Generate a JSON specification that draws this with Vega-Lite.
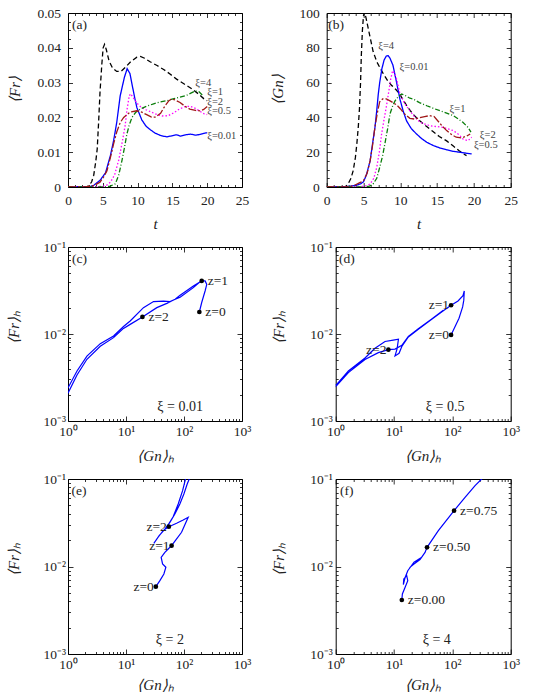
{
"$schema": "https://vega.github.io/schema/vega-lite/v6.json",
"background": "white",
"padding": {"left": 5, "top": 5, "right": 5, "bottom": 5},
"spacing": 7,
"datasets": {
"a": [
{"t":0,"v":0,"s":"4"},{"t":2.5,"v":0,"s":"4"},{"t":3.0,"v":0.0003,"s":"4"},{"t":3.4,"v":0.0015,"s":"4"},{"t":3.7,"v":0.0034,"s":"4"},{"t":4.0,"v":0.0075,"s":"4"},{"t":4.2,"v":0.011,"s":"4"},{"t":4.4,"v":0.0187,"s":"4"},{"t":4.6,"v":0.0273,"s":"4"},{"t":4.85,"v":0.035,"s":"4"},{"t":5.05,"v":0.04,"s":"4"},{"t":5.25,"v":0.041,"s":"4"},{"t":5.5,"v":0.0395,"s":"4"},{"t":5.9,"v":0.0362,"s":"4"},{"t":6.4,"v":0.0342,"s":"4"},{"t":7.0,"v":0.0332,"s":"4"},{"t":7.6,"v":0.0332,"s":"4"},{"t":8.3,"v":0.0345,"s":"4"},{"t":9.0,"v":0.036,"s":"4"},{"t":9.9,"v":0.0373,"s":"4"},{"t":10.4,"v":0.0375,"s":"4"},{"t":11.0,"v":0.037,"s":"4"},{"t":11.8,"v":0.036,"s":"4"},{"t":12.8,"v":0.0349,"s":"4"},{"t":13.8,"v":0.0337,"s":"4"},{"t":14.7,"v":0.0324,"s":"4"},{"t":15.6,"v":0.031,"s":"4"},{"t":16.7,"v":0.0296,"s":"4"},{"t":17.8,"v":0.0282,"s":"4"},{"t":18.7,"v":0.0268,"s":"4"},{"t":19.5,"v":0.0254,"s":"4"},{"t":20,"v":0.0248,"s":"4"},
{"t":0,"v":0,"s":"0.01"},{"t":3,"v":0,"s":"0.01"},{"t":3.7,"v":0.0005,"s":"0.01"},{"t":4.6,"v":0.0019,"s":"0.01"},{"t":5.4,"v":0.0041,"s":"0.01"},{"t":6.1,"v":0.0091,"s":"0.01"},{"t":6.55,"v":0.0133,"s":"0.01"},{"t":7.0,"v":0.0185,"s":"0.01"},{"t":7.5,"v":0.0262,"s":"0.01"},{"t":8.1,"v":0.0315,"s":"0.01"},{"t":8.5,"v":0.034,"s":"0.01"},{"t":8.9,"v":0.0326,"s":"0.01"},{"t":9.2,"v":0.0295,"s":"0.01"},{"t":9.6,"v":0.0255,"s":"0.01"},{"t":9.9,"v":0.0228,"s":"0.01"},{"t":10.6,"v":0.0193,"s":"0.01"},{"t":11.2,"v":0.0175,"s":"0.01"},{"t":11.8,"v":0.0165,"s":"0.01"},{"t":12.5,"v":0.0155,"s":"0.01"},{"t":13.3,"v":0.0148,"s":"0.01"},{"t":14.2,"v":0.0144,"s":"0.01"},{"t":14.9,"v":0.0147,"s":"0.01"},{"t":15.6,"v":0.015,"s":"0.01"},{"t":16.2,"v":0.0146,"s":"0.01"},{"t":16.9,"v":0.015,"s":"0.01"},{"t":17.6,"v":0.0152,"s":"0.01"},{"t":18.3,"v":0.0149,"s":"0.01"},{"t":19.0,"v":0.0151,"s":"0.01"},{"t":19.5,"v":0.0154,"s":"0.01"},{"t":20,"v":0.0156,"s":"0.01"},
{"t":0,"v":0,"s":"0.5"},{"t":4,"v":0,"s":"0.5"},{"t":5.5,"v":0.0004,"s":"0.5"},{"t":6.1,"v":0.0014,"s":"0.5"},{"t":6.7,"v":0.0035,"s":"0.5"},{"t":7.3,"v":0.0078,"s":"0.5"},{"t":7.8,"v":0.013,"s":"0.5"},{"t":8.2,"v":0.0175,"s":"0.5"},{"t":8.5,"v":0.0225,"s":"0.5"},{"t":8.8,"v":0.0262,"s":"0.5"},{"t":9.0,"v":0.0268,"s":"0.5"},{"t":9.4,"v":0.0256,"s":"0.5"},{"t":9.9,"v":0.0241,"s":"0.5"},{"t":10.5,"v":0.0229,"s":"0.5"},{"t":11.2,"v":0.0222,"s":"0.5"},{"t":12.0,"v":0.0215,"s":"0.5"},{"t":12.8,"v":0.0208,"s":"0.5"},{"t":13.5,"v":0.0204,"s":"0.5"},{"t":14.4,"v":0.0205,"s":"0.5"},{"t":15.2,"v":0.0213,"s":"0.5"},{"t":16.0,"v":0.0224,"s":"0.5"},{"t":16.8,"v":0.0231,"s":"0.5"},{"t":17.5,"v":0.0232,"s":"0.5"},{"t":18.3,"v":0.0226,"s":"0.5"},{"t":19.0,"v":0.0217,"s":"0.5"},{"t":19.5,"v":0.0211,"s":"0.5"},{"t":20,"v":0.0208,"s":"0.5"},
{"t":0,"v":0,"s":"1"},{"t":5,"v":0,"s":"1"},{"t":6.0,"v":0.0002,"s":"1"},{"t":6.8,"v":0.0009,"s":"1"},{"t":7.3,"v":0.0035,"s":"1"},{"t":7.75,"v":0.0076,"s":"1"},{"t":8.1,"v":0.0112,"s":"1"},{"t":8.46,"v":0.0152,"s":"1"},{"t":8.8,"v":0.0178,"s":"1"},{"t":9.2,"v":0.02,"s":"1"},{"t":9.7,"v":0.0214,"s":"1"},{"t":10.4,"v":0.0224,"s":"1"},{"t":11.3,"v":0.0232,"s":"1"},{"t":12.3,"v":0.0239,"s":"1"},{"t":13.2,"v":0.0244,"s":"1"},{"t":14.2,"v":0.0248,"s":"1"},{"t":15.1,"v":0.0253,"s":"1"},{"t":16.1,"v":0.0258,"s":"1"},{"t":17.0,"v":0.0263,"s":"1"},{"t":17.8,"v":0.0271,"s":"1"},{"t":18.3,"v":0.0276,"s":"1"},{"t":18.8,"v":0.0274,"s":"1"},{"t":19.3,"v":0.0264,"s":"1"},
{"t":0,"v":0,"s":"2"},{"t":2.5,"v":0,"s":"2"},{"t":3.7,"v":0.0004,"s":"2"},{"t":4.6,"v":0.0014,"s":"2"},{"t":5.1,"v":0.0028,"s":"2"},{"t":5.6,"v":0.0047,"s":"2"},{"t":6.1,"v":0.0085,"s":"2"},{"t":6.55,"v":0.0124,"s":"2"},{"t":7.0,"v":0.0158,"s":"2"},{"t":7.5,"v":0.0185,"s":"2"},{"t":8.0,"v":0.02,"s":"2"},{"t":8.9,"v":0.0215,"s":"2"},{"t":9.9,"v":0.0219,"s":"2"},{"t":10.6,"v":0.0215,"s":"2"},{"t":11.3,"v":0.0208,"s":"2"},{"t":12.0,"v":0.0201,"s":"2"},{"t":12.6,"v":0.0201,"s":"2"},{"t":13.3,"v":0.0212,"s":"2"},{"t":13.9,"v":0.0232,"s":"2"},{"t":14.5,"v":0.0248,"s":"2"},{"t":14.9,"v":0.0253,"s":"2"},{"t":15.4,"v":0.025,"s":"2"},{"t":16.1,"v":0.0243,"s":"2"},{"t":16.8,"v":0.0232,"s":"2"},{"t":17.5,"v":0.0224,"s":"2"},{"t":18.3,"v":0.022,"s":"2"},{"t":19.0,"v":0.0219,"s":"2"},{"t":19.5,"v":0.0223,"s":"2"},{"t":20,"v":0.0231,"s":"2"}
],
"aLab": [{"t":18.3,"v":0.0299,"lab":"ξ=4"},{"t":20.0,"v":0.0274,"lab":"ξ=1"},{"t":20.0,"v":0.0243,"lab":"ξ=2"},{"t":20.0,"v":0.0217,"lab":"ξ=0.5"},{"t":20.0,"v":0.0147,"lab":"ξ=0.01"}],
"b": [
{"t":0,"v":0,"s":"4"},{"t":2.5,"v":0,"s":"4"},{"t":2.9,"v":1.7,"s":"4"},{"t":3.3,"v":5,"s":"4"},{"t":3.6,"v":9.4,"s":"4"},{"t":3.9,"v":17,"s":"4"},{"t":4.1,"v":25,"s":"4"},{"t":4.3,"v":35,"s":"4"},{"t":4.45,"v":45,"s":"4"},{"t":4.6,"v":60,"s":"4"},{"t":4.7,"v":75,"s":"4"},{"t":4.85,"v":90,"s":"4"},{"t":5.0,"v":98.5,"s":"4"},{"t":5.15,"v":100.5,"s":"4"},{"t":5.35,"v":97,"s":"4"},{"t":5.6,"v":92,"s":"4"},{"t":5.9,"v":86,"s":"4"},{"t":6.3,"v":78,"s":"4"},{"t":6.8,"v":72,"s":"4"},{"t":7.3,"v":68,"s":"4"},{"t":7.7,"v":65,"s":"4"},{"t":8.3,"v":61,"s":"4"},{"t":8.8,"v":58.5,"s":"4"},{"t":9.4,"v":56,"s":"4"},{"t":9.9,"v":53.5,"s":"4"},{"t":10.4,"v":50,"s":"4"},{"t":10.9,"v":46.5,"s":"4"},{"t":11.7,"v":42,"s":"4"},{"t":12.5,"v":38.5,"s":"4"},{"t":13.5,"v":35,"s":"4"},{"t":14.4,"v":32,"s":"4"},{"t":15.3,"v":29,"s":"4"},{"t":16.3,"v":26.5,"s":"4"},{"t":17.2,"v":23.5,"s":"4"},{"t":18.0,"v":20.8,"s":"4"},{"t":18.6,"v":19,"s":"4"},{"t":19.0,"v":18,"s":"4"},
{"t":0,"v":0,"s":"0.01"},{"t":3,"v":0.3,"s":"0.01"},{"t":4,"v":1,"s":"0.01"},{"t":4.6,"v":1.8,"s":"0.01"},{"t":5.0,"v":3,"s":"0.01"},{"t":5.4,"v":7,"s":"0.01"},{"t":5.9,"v":15,"s":"0.01"},{"t":6.2,"v":24,"s":"0.01"},{"t":6.55,"v":34,"s":"0.01"},{"t":6.8,"v":44,"s":"0.01"},{"t":7.0,"v":53,"s":"0.01"},{"t":7.2,"v":60,"s":"0.01"},{"t":7.5,"v":68,"s":"0.01"},{"t":7.8,"v":73,"s":"0.01"},{"t":8.1,"v":75.3,"s":"0.01"},{"t":8.36,"v":75.5,"s":"0.01"},{"t":8.6,"v":74,"s":"0.01"},{"t":9.0,"v":70,"s":"0.01"},{"t":9.25,"v":65,"s":"0.01"},{"t":9.5,"v":60,"s":"0.01"},{"t":9.95,"v":50.5,"s":"0.01"},{"t":10.4,"v":43.5,"s":"0.01"},{"t":10.85,"v":38,"s":"0.01"},{"t":11.5,"v":33.5,"s":"0.01"},{"t":12.2,"v":30.5,"s":"0.01"},{"t":12.9,"v":27.8,"s":"0.01"},{"t":13.6,"v":25.7,"s":"0.01"},{"t":14.5,"v":23.8,"s":"0.01"},{"t":15.4,"v":22.4,"s":"0.01"},{"t":16.3,"v":21.4,"s":"0.01"},{"t":17.2,"v":20.5,"s":"0.01"},{"t":18.5,"v":19.7,"s":"0.01"},{"t":19.7,"v":19,"s":"0.01"},
{"t":0,"v":0,"s":"0.5"},{"t":4,"v":0,"s":"0.5"},{"t":5.2,"v":0.5,"s":"0.5"},{"t":5.9,"v":1.7,"s":"0.5"},{"t":6.4,"v":5,"s":"0.5"},{"t":6.8,"v":11.3,"s":"0.5"},{"t":7.15,"v":20,"s":"0.5"},{"t":7.46,"v":30.5,"s":"0.5"},{"t":7.8,"v":39,"s":"0.5"},{"t":8.1,"v":46,"s":"0.5"},{"t":8.4,"v":54,"s":"0.5"},{"t":8.7,"v":62,"s":"0.5"},{"t":8.95,"v":66.8,"s":"0.5"},{"t":9.2,"v":65.5,"s":"0.5"},{"t":9.5,"v":62,"s":"0.5"},{"t":9.95,"v":53.5,"s":"0.5"},{"t":10.6,"v":48,"s":"0.5"},{"t":11.3,"v":43.8,"s":"0.5"},{"t":12.0,"v":40,"s":"0.5"},{"t":12.7,"v":37.2,"s":"0.5"},{"t":14.0,"v":35.2,"s":"0.5"},{"t":15.8,"v":34.3,"s":"0.5"},{"t":17.2,"v":32.4,"s":"0.5"},{"t":18.0,"v":30,"s":"0.5"},{"t":18.5,"v":27.6,"s":"0.5"},{"t":19.2,"v":26.6,"s":"0.5"},{"t":19.7,"v":28.6,"s":"0.5"},
{"t":0,"v":0,"s":"1"},{"t":5,"v":0,"s":"1"},{"t":5.8,"v":0.5,"s":"1"},{"t":6.3,"v":1.7,"s":"1"},{"t":6.8,"v":5,"s":"1"},{"t":7.2,"v":11.3,"s":"1"},{"t":7.6,"v":18,"s":"1"},{"t":7.9,"v":24.7,"s":"1"},{"t":8.3,"v":34,"s":"1"},{"t":8.6,"v":42,"s":"1"},{"t":9.0,"v":47,"s":"1"},{"t":9.3,"v":49.6,"s":"1"},{"t":9.8,"v":52.3,"s":"1"},{"t":10.2,"v":53.4,"s":"1"},{"t":10.7,"v":52.5,"s":"1"},{"t":11.3,"v":51,"s":"1"},{"t":11.75,"v":50.6,"s":"1"},{"t":12.6,"v":48.5,"s":"1"},{"t":13.6,"v":46.7,"s":"1"},{"t":14.5,"v":45.2,"s":"1"},{"t":15.4,"v":43.8,"s":"1"},{"t":16.3,"v":42.5,"s":"1"},{"t":17.2,"v":41,"s":"1"},{"t":17.9,"v":39,"s":"1"},{"t":18.5,"v":37.2,"s":"1"},{"t":19.2,"v":34.3,"s":"1"},{"t":19.6,"v":31.5,"s":"1"},
{"t":0,"v":0,"s":"2"},{"t":3,"v":0,"s":"2"},{"t":3.8,"v":1,"s":"2"},{"t":4.5,"v":2.5,"s":"2"},{"t":5.0,"v":3.6,"s":"2"},{"t":5.5,"v":8,"s":"2"},{"t":5.9,"v":15.1,"s":"2"},{"t":6.2,"v":23,"s":"2"},{"t":6.55,"v":34.3,"s":"2"},{"t":6.9,"v":43,"s":"2"},{"t":7.2,"v":49,"s":"2"},{"t":7.6,"v":50.6,"s":"2"},{"t":8.1,"v":50.6,"s":"2"},{"t":8.6,"v":49.5,"s":"2"},{"t":9.0,"v":48.5,"s":"2"},{"t":9.5,"v":47.2,"s":"2"},{"t":10.0,"v":45,"s":"2"},{"t":10.6,"v":42,"s":"2"},{"t":11.3,"v":39.5,"s":"2"},{"t":12.0,"v":39,"s":"2"},{"t":12.6,"v":39.8,"s":"2"},{"t":13.3,"v":40.5,"s":"2"},{"t":14.0,"v":41,"s":"2"},{"t":14.6,"v":40.5,"s":"2"},{"t":15.2,"v":37.5,"s":"2"},{"t":15.7,"v":35,"s":"2"},{"t":16.3,"v":32.4,"s":"2"},{"t":17.0,"v":30,"s":"2"},{"t":17.6,"v":28.6,"s":"2"},{"t":18.3,"v":28.2,"s":"2"},{"t":19.0,"v":29.2,"s":"2"},{"t":19.5,"v":30.5,"s":"2"}
],
"bLab": [{"t":7.0,"v":81.2,"lab":"ξ=4"},{"t":9.9,"v":69,"lab":"ξ=0.01"},{"t":16.7,"v":44.8,"lab":"ξ=1"},{"t":20.8,"v":29.6,"lab":"ξ=2"},{"t":20.0,"v":24.0,"lab":"ξ=0.5"}],
"c": [{"x":184,"y":0.0179},{"x":202,"y":0.023},{"x":231,"y":0.0312},{"x":247,"y":0.0372},{"x":231,"y":0.0407},{"x":202,"y":0.0407},{"x":145,"y":0.0356},{"x":85.7,"y":0.0279},{"x":70.3,"y":0.0251},{"x":57.6,"y":0.0236},{"x":44.3,"y":0.0239},{"x":29.8,"y":0.0236},{"x":20,"y":0.0201},{"x":11.8,"y":0.0141},{"x":9.06,"y":0.0122},{"x":6.1,"y":0.0095},{"x":3.6,"y":0.00774},{"x":2.12,"y":0.00558},{"x":1.43,"y":0.00376},{"x":1.02,"y":0.00246},{"x":0.9,"y":0.00222},{"x":0.9,"y":0.0019},{"x":1.02,"y":0.00215},{"x":1.43,"y":0.00338},{"x":2.12,"y":0.00512},{"x":3.6,"y":0.00723},{"x":6.1,"y":0.00908},{"x":9.06,"y":0.0116},{"x":11.8,"y":0.0129},{"x":19.2,"y":0.0157},{"x":34,"y":0.0201},{"x":50.6,"y":0.0225},{"x":65.8,"y":0.0246},{"x":85.7,"y":0.0265},{"x":145,"y":0.0341},{"x":185,"y":0.0392}],
"cPts": [{"x":184,"y":0.0179,"lab":"z=0"},{"x":202,"y":0.0407,"lab":"z=1"},{"x":19.2,"y":0.0157,"lab":"z=2"}],
"d": [{"x":95,"y":0.00975},{"x":130,"y":0.0152},{"x":150,"y":0.0205},{"x":157,"y":0.0245},{"x":160,"y":0.0312},{"x":152,"y":0.0275},{"x":125,"y":0.024},{"x":95,"y":0.0214},{"x":70,"y":0.0185},{"x":44.3,"y":0.01475},{"x":26.1,"y":0.0113},{"x":17.6,"y":0.00925},{"x":13.6,"y":0.0072},{"x":12.2,"y":0.006},{"x":10.4,"y":0.0056},{"x":11.3,"y":0.0068},{"x":11.9,"y":0.0087},{"x":9.7,"y":0.0085},{"x":7.0,"y":0.0082},{"x":4.72,"y":0.00686},{"x":3.18,"y":0.0053},{"x":1.65,"y":0.00376},{"x":1.04,"y":0.00264},{"x":0.9,"y":0.0026},{"x":0.9,"y":0.0024},{"x":1.04,"y":0.00255},{"x":1.65,"y":0.0036},{"x":3.18,"y":0.0051},{"x":5.38,"y":0.0061},{"x":8.0,"y":0.0066},{"x":10.4,"y":0.0067},{"x":13.6,"y":0.0074},{"x":17.6,"y":0.0094},{"x":26.1,"y":0.0115},{"x":44.3,"y":0.0149},{"x":70,"y":0.0188}],
"dPts": [{"x":95,"y":0.00975,"lab":"z=0"},{"x":95,"y":0.0214,"lab":"z=1"},{"x":8.0,"y":0.0066,"lab":"z=2"}],
"e": [{"x":32.7,"y":0.00588},{"x":38.4,"y":0.00689},{"x":45.0,"y":0.0082},{"x":48.7,"y":0.0098},{"x":42.7,"y":0.0107},{"x":40.4,"y":0.01274},{"x":46.8,"y":0.01452},{"x":53.3,"y":0.01585},{"x":61.1,"y":0.0173},{"x":72.4,"y":0.0201},{"x":90.8,"y":0.0246},{"x":118,"y":0.0365},{"x":96.9,"y":0.034},{"x":74.5,"y":0.0312},{"x":54.8,"y":0.0285},{"x":43.7,"y":0.0257},{"x":35.8,"y":0.0216},{"x":30.2,"y":0.0184},{"x":37.3,"y":0.0225},{"x":46.8,"y":0.0268},{"x":57.1,"y":0.032},{"x":69.6,"y":0.0398},{"x":84.9,"y":0.0518},{"x":99.5,"y":0.0674},{"x":113.6,"y":0.0877},{"x":126.5,"y":0.1045},{"x":123,"y":0.119},{"x":108,"y":0.1045},{"x":94.6,"y":0.0736},{"x":79.4,"y":0.0518},{"x":65,"y":0.037},{"x":53.3,"y":0.03}],
"ePts": [{"x":32.7,"y":0.00588,"lab":"z=0"},{"x":61.1,"y":0.0173,"lab":"z=1"},{"x":54.8,"y":0.0285,"lab":"z=2"}],
"f": [{"x":13.6,"y":0.00414},{"x":13.9,"y":0.00485},{"x":15.5,"y":0.00578},{"x":17.2,"y":0.00689},{"x":16.5,"y":0.00785},{"x":14.7,"y":0.0072},{"x":14.45,"y":0.0062},{"x":15.5,"y":0.0075},{"x":17.2,"y":0.00895},{"x":22,"y":0.0112},{"x":29,"y":0.0126},{"x":22.5,"y":0.0108},{"x":18.5,"y":0.0097},{"x":21.4,"y":0.0105},{"x":27.9,"y":0.012},{"x":34,"y":0.0145},{"x":36.8,"y":0.01656},{"x":57.5,"y":0.0257},{"x":107,"y":0.0435},{"x":165,"y":0.0617},{"x":245,"y":0.0839},{"x":340,"y":0.1045}],
"fPts": [{"x":13.6,"y":0.00414,"lab":"z=0.00"},{"x":36.8,"y":0.01656,"lab":"z=0.50"},{"x":107,"y":0.0435,"lab":"z=0.75"}]
},
"vconcat": [
{"bounds": "flush", "spacing": 84.7, "hconcat": [
{"width": 174, "height": 174, "data": {"name": "a"},
 "resolve": {"axis": {"x": "independent", "y": "independent"}},
 "layer": [
  {"mark": {"type": "line", "clip": true, "strokeWidth": 1.3},
   "encoding": {
    "x": {"field": "t", "type": "quantitative", "scale": {"domain": [0, 25], "nice": false, "zero": false}, "axis": {"orient": "bottom", "values": [0,5,10,15,20,25], "tickSize": -4.5, "labelPadding": 10.5, "title": "t", "titleX": 87, "titleY": 36, "titleBaseline": "middle", "titleAngle": 0}},
    "y": {"field": "v", "type": "quantitative", "scale": {"domain": [0, 0.05], "nice": false}, "axis": {"orient": "left", "values": [0,0.01,0.02,0.03,0.04,0.05], "format": ".2~f", "tickSize": -4.5, "labelPadding": 12, "title": "⟨Fr⟩", "titleX": -54, "titleY": 76, "titleAngle": 270, "titleBaseline": "middle", "titleAlign": "center"}},
    "color": {"field": "s", "type": "nominal", "scale": {"domain": ["4","0.01","0.5","1","2"], "range": ["#000000","#0000ff","#ff00ff","#0a7d0a","#a01818"]}, "legend": null},
    "strokeDash": {"field": "s", "type": "nominal", "scale": {"domain": ["4","0.01","0.5","1","2"], "range": [[5,3],[1,0],[1.5,2],[5,2,1,2],[8,2,2,2]]}, "legend": null},
    "order": {"value": null}}},
  {"mark": {"type": "point", "opacity": 0},
   "encoding": {
    "x": {"field": "t", "type": "quantitative", "scale": {"domain": [0, 25], "nice": false, "zero": false}, "axis": {"orient": "top", "values": [0,5,10,15,20,25], "tickSize": -4.5, "labels": false, "title": null}},
    "y": {"field": "v", "type": "quantitative", "scale": {"domain": [0, 0.05], "nice": false}, "axis": {"orient": "right", "values": [0,0.01,0.02,0.03,0.04,0.05], "tickSize": -4.5, "labels": false, "title": null}}}},
  {"mark": {"type": "point", "opacity": 0},
   "encoding": {
    "x": {"field": "t", "type": "quantitative", "scale": {"domain": [0, 25], "nice": false, "zero": false}, "axis": {"orient": "bottom", "values": [1,2,3,4,6,7,8,9,11,12,13,14,16,17,18,19,21,22,23,24], "tickSize": -2.5, "labels": false, "title": null}},
    "y": {"field": "v", "type": "quantitative", "scale": {"domain": [0, 0.05], "nice": false}, "axis": {"orient": "left", "values": [0.0025,0.005,0.0075,0.0125,0.015,0.0175,0.0225,0.025,0.0275,0.0325,0.035,0.0375,0.0425,0.045,0.0475], "tickSize": -2.5, "labels": false, "title": null}}}},
  {"mark": {"type": "point", "opacity": 0},
   "encoding": {
    "x": {"field": "t", "type": "quantitative", "scale": {"domain": [0, 25], "nice": false, "zero": false}, "axis": {"orient": "top", "values": [1,2,3,4,6,7,8,9,11,12,13,14,16,17,18,19,21,22,23,24], "tickSize": -2.5, "labels": false, "title": null}},
    "y": {"field": "v", "type": "quantitative", "scale": {"domain": [0, 0.05], "nice": false}, "axis": {"orient": "right", "values": [0.0025,0.005,0.0075,0.0125,0.015,0.0175,0.0225,0.025,0.0275,0.0325,0.035,0.0375,0.0425,0.045,0.0475], "tickSize": -2.5, "labels": false, "title": null}}}},
  {"data": {"name": "aLab"}, "mark": {"type": "text", "align": "left", "baseline": "middle", "fontSize": 10.5, "color": "#444"},
   "encoding": {
    "x": {"field": "t", "type": "quantitative", "scale": {"domain": [0, 25], "nice": false, "zero": false}, "axis": null},
    "y": {"field": "v", "type": "quantitative", "scale": {"domain": [0, 0.05], "nice": false}, "axis": null},
    "text": {"field": "lab"}}},
  {"data": {"values": [{"t": 0.57, "v": 0.0466, "lab": "(a)"}]}, "mark": {"type": "text", "align": "left", "baseline": "middle", "fontSize": 13.5, "color": "#222"},
   "encoding": {
    "x": {"field": "t", "type": "quantitative", "scale": {"domain": [0, 25], "nice": false, "zero": false}, "axis": null},
    "y": {"field": "v", "type": "quantitative", "scale": {"domain": [0, 0.05], "nice": false}, "axis": null},
    "text": {"field": "lab"}}}
 ]},
{"width": 184, "height": 174, "data": {"name": "b"},
 "resolve": {"axis": {"x": "independent", "y": "independent"}},
 "layer": [
  {"mark": {"type": "line", "clip": true, "strokeWidth": 1.3},
   "encoding": {
    "x": {"field": "t", "type": "quantitative", "scale": {"domain": [0, 25], "nice": false, "zero": false}, "axis": {"orient": "bottom", "values": [0,5,10,15,20,25], "tickSize": -4.5, "labelPadding": 10.5, "title": "t", "titleX": 92, "titleY": 36, "titleBaseline": "middle", "titleAngle": 0}},
    "y": {"field": "v", "type": "quantitative", "scale": {"domain": [0, 100], "nice": false}, "axis": {"orient": "left", "values": [0,20,40,60,80,100], "tickSize": -4.5, "labelPadding": 12, "title": "⟨Gn⟩", "titleX": -49, "titleY": 76, "titleAngle": 270, "titleBaseline": "middle", "titleAlign": "center"}},
    "color": {"field": "s", "type": "nominal", "scale": {"domain": ["4","0.01","0.5","1","2"], "range": ["#000000","#0000ff","#ff00ff","#0a7d0a","#a01818"]}, "legend": null},
    "strokeDash": {"field": "s", "type": "nominal", "scale": {"domain": ["4","0.01","0.5","1","2"], "range": [[5,3],[1,0],[1.5,2],[5,2,1,2],[8,2,2,2]]}, "legend": null},
    "order": {"value": null}}},
  {"mark": {"type": "point", "opacity": 0},
   "encoding": {
    "x": {"field": "t", "type": "quantitative", "scale": {"domain": [0, 25], "nice": false, "zero": false}, "axis": {"orient": "top", "values": [0,5,10,15,20,25], "tickSize": -4.5, "labels": false, "title": null}},
    "y": {"field": "v", "type": "quantitative", "scale": {"domain": [0, 100], "nice": false}, "axis": {"orient": "right", "values": [0,20,40,60,80,100], "tickSize": -4.5, "labels": false, "title": null}}}},
  {"mark": {"type": "point", "opacity": 0},
   "encoding": {
    "x": {"field": "t", "type": "quantitative", "scale": {"domain": [0, 25], "nice": false, "zero": false}, "axis": {"orient": "bottom", "values": [1,2,3,4,6,7,8,9,11,12,13,14,16,17,18,19,21,22,23,24], "tickSize": -2.5, "labels": false, "title": null}},
    "y": {"field": "v", "type": "quantitative", "scale": {"domain": [0, 100], "nice": false}, "axis": {"orient": "left", "values": [5,10,15,25,30,35,45,50,55,65,70,75,85,90,95], "tickSize": -2.5, "labels": false, "title": null}}}},
  {"mark": {"type": "point", "opacity": 0},
   "encoding": {
    "x": {"field": "t", "type": "quantitative", "scale": {"domain": [0, 25], "nice": false, "zero": false}, "axis": {"orient": "top", "values": [1,2,3,4,6,7,8,9,11,12,13,14,16,17,18,19,21,22,23,24], "tickSize": -2.5, "labels": false, "title": null}},
    "y": {"field": "v", "type": "quantitative", "scale": {"domain": [0, 100], "nice": false}, "axis": {"orient": "right", "values": [5,10,15,25,30,35,45,50,55,65,70,75,85,90,95], "tickSize": -2.5, "labels": false, "title": null}}}},
  {"data": {"name": "bLab"}, "mark": {"type": "text", "align": "left", "baseline": "middle", "fontSize": 10.5, "color": "#444"},
   "encoding": {
    "x": {"field": "t", "type": "quantitative", "scale": {"domain": [0, 25], "nice": false, "zero": false}, "axis": null},
    "y": {"field": "v", "type": "quantitative", "scale": {"domain": [0, 100], "nice": false}, "axis": null},
    "text": {"field": "lab"}}},
  {"data": {"values": [{"t": 0.22, "v": 93.3, "lab": "(b)"}]}, "mark": {"type": "text", "align": "left", "baseline": "middle", "fontSize": 13.5, "color": "#222"},
   "encoding": {
    "x": {"field": "t", "type": "quantitative", "scale": {"domain": [0, 25], "nice": false, "zero": false}, "axis": null},
    "y": {"field": "v", "type": "quantitative", "scale": {"domain": [0, 100], "nice": false}, "axis": null},
    "text": {"field": "lab"}}}
 ]}
]},
{"spacing": 5, "vconcat": [
{"bounds": "flush", "spacing": 93.7, "hconcat": [
{"width": 174, "height": 174, "data": {"name": "c"},
 "resolve": {"axis": {"x": "independent", "y": "independent"}},
 "layer": [
  {"mark": {"type": "line", "clip": true, "color": "#0000ff", "strokeWidth": 1.2},
   "encoding": {
    "x": {"field": "x", "type": "quantitative", "scale": {"type": "log", "domain": [1, 1000], "nice": false}, "axis": {"orient": "bottom", "values": [1,10,100,1000], "tickSize": -5, "labelPadding": 8.5, "labelExpr": "datum.value < 5 ? '10⁰' : datum.value < 50 ? '10¹' : datum.value < 500 ? '10²' : '10³'", "title": "⟨Gn⟩ₕ", "titleX": 87, "titleY": 34, "titleBaseline": "middle", "titleAngle": 0}},
    "y": {"field": "y", "type": "quantitative", "scale": {"type": "log", "domain": [0.001, 0.1], "nice": false}, "axis": {"orient": "left", "values": [0.001,0.01,0.1], "tickSize": -5, "labelPadding": 7.5, "labelExpr": "datum.value < 0.005 ? '10⁻³' : datum.value < 0.05 ? '10⁻²' : '10⁻¹'", "title": "⟨Fr⟩ₕ", "titleX": -55, "titleY": 80, "titleAngle": 270, "titleBaseline": "middle", "titleAlign": "center"}},
    "order": {"value": null}}},
  {"mark": {"type": "point", "opacity": 0},
   "encoding": {
    "x": {"field": "x", "type": "quantitative", "scale": {"type": "log", "domain": [1, 1000], "nice": false}, "axis": {"orient": "top", "values": [1,10,100,1000], "tickSize": -5, "labels": false, "title": null}},
    "y": {"field": "y", "type": "quantitative", "scale": {"type": "log", "domain": [0.001, 0.1], "nice": false}, "axis": {"orient": "right", "values": [0.001,0.01,0.1], "tickSize": -5, "labels": false, "title": null}}}},
  {"mark": {"type": "point", "opacity": 0},
   "encoding": {
    "x": {"field": "x", "type": "quantitative", "scale": {"type": "log", "domain": [1, 1000], "nice": false}, "axis": {"orient": "bottom", "values": [2,3,4,5,6,7,8,9,20,30,40,50,60,70,80,90,200,300,400,500,600,700,800,900], "tickSize": -2.5, "labels": false, "title": null}},
    "y": {"field": "y", "type": "quantitative", "scale": {"type": "log", "domain": [0.001, 0.1], "nice": false}, "axis": {"orient": "left", "values": [0.002,0.003,0.004,0.005,0.006,0.007,0.008,0.009,0.02,0.03,0.04,0.05,0.06,0.07,0.08,0.09], "tickSize": -2.5, "labels": false, "title": null}}}},
  {"mark": {"type": "point", "opacity": 0},
   "encoding": {
    "x": {"field": "x", "type": "quantitative", "scale": {"type": "log", "domain": [1, 1000], "nice": false}, "axis": {"orient": "top", "values": [2,3,4,5,6,7,8,9,20,30,40,50,60,70,80,90,200,300,400,500,600,700,800,900], "tickSize": -2.5, "labels": false, "title": null}},
    "y": {"field": "y", "type": "quantitative", "scale": {"type": "log", "domain": [0.001, 0.1], "nice": false}, "axis": {"orient": "right", "values": [0.002,0.003,0.004,0.005,0.006,0.007,0.008,0.009,0.02,0.03,0.04,0.05,0.06,0.07,0.08,0.09], "tickSize": -2.5, "labels": false, "title": null}}}},
  {"data": {"name": "cPts"}, "mark": {"type": "point", "filled": true, "color": "#000", "size": 22, "opacity": 1},
   "encoding": {
    "x": {"field": "x", "type": "quantitative", "scale": {"type": "log", "domain": [1, 1000], "nice": false}, "axis": null},
    "y": {"field": "y", "type": "quantitative", "scale": {"type": "log", "domain": [0.001, 0.1], "nice": false}, "axis": null}}},
  {"data": {"name": "cPts"}, "mark": {"type": "text", "align": "left", "baseline": "middle", "dx": 6, "fontSize": 13.5, "color": "#222"},
   "encoding": {
    "x": {"field": "x", "type": "quantitative", "scale": {"type": "log", "domain": [1, 1000], "nice": false}, "axis": null},
    "y": {"field": "y", "type": "quantitative", "scale": {"type": "log", "domain": [0.001, 0.1], "nice": false}, "axis": null},
    "text": {"field": "lab"}}},
  {"data": {"values": [{"x": 1.17, "y": 0.0723, "lab": "(c)"}]}, "mark": {"type": "text", "align": "left", "baseline": "middle", "fontSize": 13.5, "color": "#222"},
   "encoding": {
    "x": {"field": "x", "type": "quantitative", "scale": {"type": "log", "domain": [1, 1000], "nice": false}, "axis": null},
    "y": {"field": "y", "type": "quantitative", "scale": {"type": "log", "domain": [0.001, 0.1], "nice": false}, "axis": null},
    "text": {"field": "lab"}}},
  {"data": {"values": [{"x": 85.7, "y": 0.00145, "lab": "ξ = 0.01"}]}, "mark": {"type": "text", "align": "center", "baseline": "middle", "fontSize": 14, "color": "#222"},
   "encoding": {
    "x": {"field": "x", "type": "quantitative", "scale": {"type": "log", "domain": [1, 1000], "nice": false}, "axis": null},
    "y": {"field": "y", "type": "quantitative", "scale": {"type": "log", "domain": [0.001, 0.1], "nice": false}, "axis": null},
    "text": {"field": "lab"}}}
 ]},
{"width": 175, "height": 174, "data": {"name": "d"},
 "resolve": {"axis": {"x": "independent", "y": "independent"}},
 "layer": [
  {"mark": {"type": "line", "clip": true, "color": "#0000ff", "strokeWidth": 1.2},
   "encoding": {
    "x": {"field": "x", "type": "quantitative", "scale": {"type": "log", "domain": [1, 1000], "nice": false}, "axis": {"orient": "bottom", "values": [1,10,100,1000], "tickSize": -5, "labelPadding": 8.5, "labelExpr": "datum.value < 5 ? '10⁰' : datum.value < 50 ? '10¹' : datum.value < 500 ? '10²' : '10³'", "title": "⟨Gn⟩ₕ", "titleX": 87, "titleY": 34, "titleBaseline": "middle", "titleAngle": 0}},
    "y": {"field": "y", "type": "quantitative", "scale": {"type": "log", "domain": [0.001, 0.1], "nice": false}, "axis": {"orient": "left", "values": [0.001,0.01,0.1], "tickSize": -5, "labelPadding": 8.5, "labelExpr": "datum.value < 0.005 ? '10⁻³' : datum.value < 0.05 ? '10⁻²' : '10⁻¹'", "title": "⟨Fr⟩ₕ", "titleX": -57, "titleY": 80, "titleAngle": 270, "titleBaseline": "middle", "titleAlign": "center"}},
    "order": {"value": null}}},
  {"mark": {"type": "point", "opacity": 0},
   "encoding": {
    "x": {"field": "x", "type": "quantitative", "scale": {"type": "log", "domain": [1, 1000], "nice": false}, "axis": {"orient": "top", "values": [1,10,100,1000], "tickSize": -5, "labels": false, "title": null}},
    "y": {"field": "y", "type": "quantitative", "scale": {"type": "log", "domain": [0.001, 0.1], "nice": false}, "axis": {"orient": "right", "values": [0.001,0.01,0.1], "tickSize": -5, "labels": false, "title": null}}}},
  {"mark": {"type": "point", "opacity": 0},
   "encoding": {
    "x": {"field": "x", "type": "quantitative", "scale": {"type": "log", "domain": [1, 1000], "nice": false}, "axis": {"orient": "bottom", "values": [2,3,4,5,6,7,8,9,20,30,40,50,60,70,80,90,200,300,400,500,600,700,800,900], "tickSize": -2.5, "labels": false, "title": null}},
    "y": {"field": "y", "type": "quantitative", "scale": {"type": "log", "domain": [0.001, 0.1], "nice": false}, "axis": {"orient": "left", "values": [0.002,0.003,0.004,0.005,0.006,0.007,0.008,0.009,0.02,0.03,0.04,0.05,0.06,0.07,0.08,0.09], "tickSize": -2.5, "labels": false, "title": null}}}},
  {"mark": {"type": "point", "opacity": 0},
   "encoding": {
    "x": {"field": "x", "type": "quantitative", "scale": {"type": "log", "domain": [1, 1000], "nice": false}, "axis": {"orient": "top", "values": [2,3,4,5,6,7,8,9,20,30,40,50,60,70,80,90,200,300,400,500,600,700,800,900], "tickSize": -2.5, "labels": false, "title": null}},
    "y": {"field": "y", "type": "quantitative", "scale": {"type": "log", "domain": [0.001, 0.1], "nice": false}, "axis": {"orient": "right", "values": [0.002,0.003,0.004,0.005,0.006,0.007,0.008,0.009,0.02,0.03,0.04,0.05,0.06,0.07,0.08,0.09], "tickSize": -2.5, "labels": false, "title": null}}}},
  {"data": {"name": "dPts"}, "mark": {"type": "point", "filled": true, "color": "#000", "size": 22, "opacity": 1},
   "encoding": {
    "x": {"field": "x", "type": "quantitative", "scale": {"type": "log", "domain": [1, 1000], "nice": false}, "axis": null},
    "y": {"field": "y", "type": "quantitative", "scale": {"type": "log", "domain": [0.001, 0.1], "nice": false}, "axis": null}}},
  {"data": {"name": "dPts"}, "mark": {"type": "text", "align": "right", "baseline": "middle", "dx": -2, "fontSize": 13.5, "color": "#222"},
   "encoding": {
    "x": {"field": "x", "type": "quantitative", "scale": {"type": "log", "domain": [1, 1000], "nice": false}, "axis": null},
    "y": {"field": "y", "type": "quantitative", "scale": {"type": "log", "domain": [0.001, 0.1], "nice": false}, "axis": null},
    "text": {"field": "lab"}}},
  {"data": {"values": [{"x": 1.14, "y": 0.0736, "lab": "(d)"}]}, "mark": {"type": "text", "align": "left", "baseline": "middle", "fontSize": 13.5, "color": "#222"},
   "encoding": {
    "x": {"field": "x", "type": "quantitative", "scale": {"type": "log", "domain": [1, 1000], "nice": false}, "axis": null},
    "y": {"field": "y", "type": "quantitative", "scale": {"type": "log", "domain": [0.001, 0.1], "nice": false}, "axis": null},
    "text": {"field": "lab"}}},
  {"data": {"values": [{"x": 75, "y": 0.00145, "lab": "ξ = 0.5"}]}, "mark": {"type": "text", "align": "center", "baseline": "middle", "fontSize": 14, "color": "#222"},
   "encoding": {
    "x": {"field": "x", "type": "quantitative", "scale": {"type": "log", "domain": [1, 1000], "nice": false}, "axis": null},
    "y": {"field": "y", "type": "quantitative", "scale": {"type": "log", "domain": [0.001, 0.1], "nice": false}, "axis": null},
    "text": {"field": "lab"}}}
 ]}
]},
{"bounds": "flush", "spacing": 93.7, "hconcat": [
{"width": 174, "height": 175, "data": {"name": "e"},
 "resolve": {"axis": {"x": "independent", "y": "independent"}},
 "layer": [
  {"mark": {"type": "line", "clip": true, "color": "#0000ff", "strokeWidth": 1.2},
   "encoding": {
    "x": {"field": "x", "type": "quantitative", "scale": {"type": "log", "domain": [1, 1000], "nice": false}, "axis": {"orient": "bottom", "values": [1,10,100,1000], "tickSize": -5, "labelPadding": 8.5, "labelExpr": "datum.value < 5 ? '10⁰' : datum.value < 50 ? '10¹' : datum.value < 500 ? '10²' : '10³'", "title": "⟨Gn⟩ₕ", "titleX": 87, "titleY": 30, "titleBaseline": "middle", "titleAngle": 0}},
    "y": {"field": "y", "type": "quantitative", "scale": {"type": "log", "domain": [0.001, 0.1], "nice": false}, "axis": {"orient": "left", "values": [0.001,0.01,0.1], "tickSize": -5, "labelPadding": 7.5, "labelExpr": "datum.value < 0.005 ? '10⁻³' : datum.value < 0.05 ? '10⁻²' : '10⁻¹'", "title": "⟨Fr⟩ₕ", "titleX": -55, "titleY": 80, "titleAngle": 270, "titleBaseline": "middle", "titleAlign": "center"}},
    "order": {"value": null}}},
  {"mark": {"type": "point", "opacity": 0},
   "encoding": {
    "x": {"field": "x", "type": "quantitative", "scale": {"type": "log", "domain": [1, 1000], "nice": false}, "axis": {"orient": "top", "values": [1,10,100,1000], "tickSize": -5, "labels": false, "title": null}},
    "y": {"field": "y", "type": "quantitative", "scale": {"type": "log", "domain": [0.001, 0.1], "nice": false}, "axis": {"orient": "right", "values": [0.001,0.01,0.1], "tickSize": -5, "labels": false, "title": null}}}},
  {"mark": {"type": "point", "opacity": 0},
   "encoding": {
    "x": {"field": "x", "type": "quantitative", "scale": {"type": "log", "domain": [1, 1000], "nice": false}, "axis": {"orient": "bottom", "values": [2,3,4,5,6,7,8,9,20,30,40,50,60,70,80,90,200,300,400,500,600,700,800,900], "tickSize": -2.5, "labels": false, "title": null}},
    "y": {"field": "y", "type": "quantitative", "scale": {"type": "log", "domain": [0.001, 0.1], "nice": false}, "axis": {"orient": "left", "values": [0.002,0.003,0.004,0.005,0.006,0.007,0.008,0.009,0.02,0.03,0.04,0.05,0.06,0.07,0.08,0.09], "tickSize": -2.5, "labels": false, "title": null}}}},
  {"mark": {"type": "point", "opacity": 0},
   "encoding": {
    "x": {"field": "x", "type": "quantitative", "scale": {"type": "log", "domain": [1, 1000], "nice": false}, "axis": {"orient": "top", "values": [2,3,4,5,6,7,8,9,20,30,40,50,60,70,80,90,200,300,400,500,600,700,800,900], "tickSize": -2.5, "labels": false, "title": null}},
    "y": {"field": "y", "type": "quantitative", "scale": {"type": "log", "domain": [0.001, 0.1], "nice": false}, "axis": {"orient": "right", "values": [0.002,0.003,0.004,0.005,0.006,0.007,0.008,0.009,0.02,0.03,0.04,0.05,0.06,0.07,0.08,0.09], "tickSize": -2.5, "labels": false, "title": null}}}},
  {"data": {"name": "ePts"}, "mark": {"type": "point", "filled": true, "color": "#000", "size": 22, "opacity": 1},
   "encoding": {
    "x": {"field": "x", "type": "quantitative", "scale": {"type": "log", "domain": [1, 1000], "nice": false}, "axis": null},
    "y": {"field": "y", "type": "quantitative", "scale": {"type": "log", "domain": [0.001, 0.1], "nice": false}, "axis": null}}},
  {"data": {"name": "ePts"}, "mark": {"type": "text", "align": "right", "baseline": "middle", "dx": -2, "fontSize": 13.5, "color": "#222"},
   "encoding": {
    "x": {"field": "x", "type": "quantitative", "scale": {"type": "log", "domain": [1, 1000], "nice": false}, "axis": null},
    "y": {"field": "y", "type": "quantitative", "scale": {"type": "log", "domain": [0.001, 0.1], "nice": false}, "axis": null},
    "text": {"field": "lab"}}},
  {"data": {"values": [{"x": 1.145, "y": 0.0735, "lab": "(e)"}]}, "mark": {"type": "text", "align": "left", "baseline": "middle", "fontSize": 13.5, "color": "#222"},
   "encoding": {
    "x": {"field": "x", "type": "quantitative", "scale": {"type": "log", "domain": [1, 1000], "nice": false}, "axis": null},
    "y": {"field": "y", "type": "quantitative", "scale": {"type": "log", "domain": [0.001, 0.1], "nice": false}, "axis": null},
    "text": {"field": "lab"}}},
  {"data": {"values": [{"x": 57.1, "y": 0.00145, "lab": "ξ = 2"}]}, "mark": {"type": "text", "align": "center", "baseline": "middle", "fontSize": 14, "color": "#222"},
   "encoding": {
    "x": {"field": "x", "type": "quantitative", "scale": {"type": "log", "domain": [1, 1000], "nice": false}, "axis": null},
    "y": {"field": "y", "type": "quantitative", "scale": {"type": "log", "domain": [0.001, 0.1], "nice": false}, "axis": null},
    "text": {"field": "lab"}}}
 ]},
{"width": 175, "height": 175, "data": {"name": "f"},
 "resolve": {"axis": {"x": "independent", "y": "independent"}},
 "layer": [
  {"mark": {"type": "line", "clip": true, "color": "#0000ff", "strokeWidth": 1.2},
   "encoding": {
    "x": {"field": "x", "type": "quantitative", "scale": {"type": "log", "domain": [1, 1000], "nice": false}, "axis": {"orient": "bottom", "values": [1,10,100,1000], "tickSize": -5, "labelPadding": 8.5, "labelExpr": "datum.value < 5 ? '10⁰' : datum.value < 50 ? '10¹' : datum.value < 500 ? '10²' : '10³'", "title": "⟨Gn⟩ₕ", "titleX": 87, "titleY": 30, "titleBaseline": "middle", "titleAngle": 0}},
    "y": {"field": "y", "type": "quantitative", "scale": {"type": "log", "domain": [0.001, 0.1], "nice": false}, "axis": {"orient": "left", "values": [0.001,0.01,0.1], "tickSize": -5, "labelPadding": 8.5, "labelExpr": "datum.value < 0.005 ? '10⁻³' : datum.value < 0.05 ? '10⁻²' : '10⁻¹'", "title": "⟨Fr⟩ₕ", "titleX": -57, "titleY": 80, "titleAngle": 270, "titleBaseline": "middle", "titleAlign": "center"}},
    "order": {"value": null}}},
  {"mark": {"type": "point", "opacity": 0},
   "encoding": {
    "x": {"field": "x", "type": "quantitative", "scale": {"type": "log", "domain": [1, 1000], "nice": false}, "axis": {"orient": "top", "values": [1,10,100,1000], "tickSize": -5, "labels": false, "title": null}},
    "y": {"field": "y", "type": "quantitative", "scale": {"type": "log", "domain": [0.001, 0.1], "nice": false}, "axis": {"orient": "right", "values": [0.001,0.01,0.1], "tickSize": -5, "labels": false, "title": null}}}},
  {"mark": {"type": "point", "opacity": 0},
   "encoding": {
    "x": {"field": "x", "type": "quantitative", "scale": {"type": "log", "domain": [1, 1000], "nice": false}, "axis": {"orient": "bottom", "values": [2,3,4,5,6,7,8,9,20,30,40,50,60,70,80,90,200,300,400,500,600,700,800,900], "tickSize": -2.5, "labels": false, "title": null}},
    "y": {"field": "y", "type": "quantitative", "scale": {"type": "log", "domain": [0.001, 0.1], "nice": false}, "axis": {"orient": "left", "values": [0.002,0.003,0.004,0.005,0.006,0.007,0.008,0.009,0.02,0.03,0.04,0.05,0.06,0.07,0.08,0.09], "tickSize": -2.5, "labels": false, "title": null}}}},
  {"mark": {"type": "point", "opacity": 0},
   "encoding": {
    "x": {"field": "x", "type": "quantitative", "scale": {"type": "log", "domain": [1, 1000], "nice": false}, "axis": {"orient": "top", "values": [2,3,4,5,6,7,8,9,20,30,40,50,60,70,80,90,200,300,400,500,600,700,800,900], "tickSize": -2.5, "labels": false, "title": null}},
    "y": {"field": "y", "type": "quantitative", "scale": {"type": "log", "domain": [0.001, 0.1], "nice": false}, "axis": {"orient": "right", "values": [0.002,0.003,0.004,0.005,0.006,0.007,0.008,0.009,0.02,0.03,0.04,0.05,0.06,0.07,0.08,0.09], "tickSize": -2.5, "labels": false, "title": null}}}},
  {"data": {"name": "fPts"}, "mark": {"type": "point", "filled": true, "color": "#000", "size": 22, "opacity": 1},
   "encoding": {
    "x": {"field": "x", "type": "quantitative", "scale": {"type": "log", "domain": [1, 1000], "nice": false}, "axis": null},
    "y": {"field": "y", "type": "quantitative", "scale": {"type": "log", "domain": [0.001, 0.1], "nice": false}, "axis": null}}},
  {"data": {"name": "fPts"}, "mark": {"type": "text", "align": "left", "baseline": "middle", "dx": 6, "fontSize": 13.5, "color": "#222"},
   "encoding": {
    "x": {"field": "x", "type": "quantitative", "scale": {"type": "log", "domain": [1, 1000], "nice": false}, "axis": null},
    "y": {"field": "y", "type": "quantitative", "scale": {"type": "log", "domain": [0.001, 0.1], "nice": false}, "axis": null},
    "text": {"field": "lab"}}},
  {"data": {"values": [{"x": 1.19, "y": 0.0735, "lab": "(f)"}]}, "mark": {"type": "text", "align": "left", "baseline": "middle", "fontSize": 13.5, "color": "#222"},
   "encoding": {
    "x": {"field": "x", "type": "quantitative", "scale": {"type": "log", "domain": [1, 1000], "nice": false}, "axis": null},
    "y": {"field": "y", "type": "quantitative", "scale": {"type": "log", "domain": [0.001, 0.1], "nice": false}, "axis": null},
    "text": {"field": "lab"}}},
  {"data": {"values": [{"x": 54, "y": 0.00145, "lab": "ξ = 4"}]}, "mark": {"type": "text", "align": "center", "baseline": "middle", "fontSize": 14, "color": "#222"},
   "encoding": {
    "x": {"field": "x", "type": "quantitative", "scale": {"type": "log", "domain": [1, 1000], "nice": false}, "axis": null},
    "y": {"field": "y", "type": "quantitative", "scale": {"type": "log", "domain": [0.001, 0.1], "nice": false}, "axis": null},
    "text": {"field": "lab"}}}
 ]}
]}
]}
],
"config": {
  "font": "Liberation Serif",
  "view": {"stroke": "#000000", "strokeWidth": 1},
  "axis": {"grid": false, "domain": false, "tickColor": "#000000", "tickWidth": 0.8, "labelColor": "#222222", "labelFontSize": 13.5, "labelFont": "Liberation Serif", "titleFont": "Liberation Serif", "titleFontSize": 15, "titleFontWeight": "normal", "titleFontStyle": "italic", "titleColor": "#222222", "labelFlush": false, "labelOverlap": false},
  "text": {"font": "Liberation Serif"}
}
}
